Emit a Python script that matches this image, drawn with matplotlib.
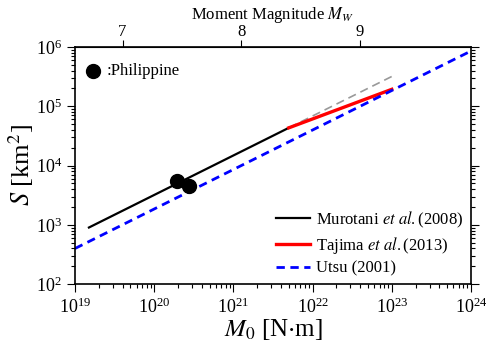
import numpy as np
import matplotlib
matplotlib.use('Agg')
import matplotlib.pyplot as plt
import matplotlib.ticker as ticker

plt.rcParams['font.family'] = ['Liberation Serif', 'DejaVu Serif']
plt.rcParams['mathtext.fontset'] = 'stix'

# scaling-law ranges (M0 in N·m, S in km^2)
murotani_m0 = [1.5e19, 5e21]
murotani_coef = 1.48e-10
tajima_m0 = [5e21, 1e23]
utsu_m0 = [1e19, 1e24]
# Philippine events
phil_m0 = [1.95e20, 2.75e20]
phil_s = [5500, 4500]
mw_ticks = [7, 8, 9]

def murotani(m0):
    return murotani_coef * np.asarray(m0) ** (2.0 / 3.0)

def tajima(m0):
    m0 = np.asarray(m0)
    return murotani(tajima_m0[0]) * (m0 / tajima_m0[0]) ** 0.5

def utsu(m0):
    mw = (2.0 / 3.0) * (np.log10(m0) - 9.1)
    return 10 ** (mw - 4.0)

def m0_to_mw(m0):
    return (2.0 / 3.0) * (np.log10(np.maximum(m0, 1e-30)) - 9.1)

def mw_to_m0(mw):
    return 10 ** (1.5 * np.asarray(mw) + 9.1)

fig = plt.figure(figsize=(4.86, 3.41), dpi=100)
ax = fig.add_axes([0.1543, 0.167, 0.8148, 0.695])

x = np.logspace(np.log10(murotani_m0[0]), np.log10(murotani_m0[1]), 50)
ax.plot(x, murotani(x), color='black', lw=1.6, label='Murotani $\\it{et\\ al.}$(2008)')
x = np.logspace(np.log10(tajima_m0[0]), np.log10(tajima_m0[1]), 50)
ax.plot(x, murotani(x), color='#999999', lw=1.2, ls=(0, (5, 3)))
ax.plot(x, tajima(x), color='red', lw=2.4, label='Tajima $\\it{et\\ al.}$(2013)')
x = np.logspace(np.log10(utsu_m0[0]), np.log10(utsu_m0[1]), 50)
ax.plot(x, utsu(x), color='blue', lw=2.0, ls=(0, (3, 2)), label='Utsu (2001)')
ax.plot(phil_m0, phil_s, 'o', color='black', ms=10, zorder=5)

ax.set_xscale('log')
ax.set_yscale('log')
ax.set_xlim(1e19, 1e24)
ax.set_ylim(1e2, 1e6)
ax.xaxis.set_major_locator(ticker.LogLocator(base=10, numticks=10))
ax.yaxis.set_major_locator(ticker.LogLocator(base=10, numticks=10))
ax.tick_params(which='both', direction='out', top=False, right=True, labelsize=13, width=0.8)
ax.tick_params(which='major', length=6)
ax.tick_params(which='minor', length=3)
for s in ax.spines.values():
    s.set_linewidth(1.2)

ax.set_xlabel('$M_0$ [N$\\cdot$m]', fontsize=18, labelpad=0)
ax.set_ylabel('$S$ [km$^2$]', fontsize=19, labelpad=0)

top = ax.secondary_xaxis('top', functions=(m0_to_mw, mw_to_m0))
top.set_xticks(mw_ticks)
top.xaxis.set_major_formatter(ticker.FixedFormatter([str(m) for m in mw_ticks]))
top.xaxis.set_minor_locator(ticker.NullLocator())
top.tick_params(direction='out', length=5, labelsize=12, width=0.8, pad=0)
top.set_xlabel('Moment Magnitude $M_W$', fontsize=12, labelpad=4)

# marker key for the event dots
ax.plot([0.045], [0.899], 'o', color='black', ms=10, transform=ax.transAxes, clip_on=False)
ax.text(0.08, 0.899, ':Philippine', transform=ax.transAxes, fontsize=12, va='center')

ax.legend(loc='lower right', frameon=False, fontsize=12, handlelength=2.0,
          handletextpad=0.4, labelspacing=0.3, borderaxespad=0.05)

fig.savefig('out.png', dpi=100)
